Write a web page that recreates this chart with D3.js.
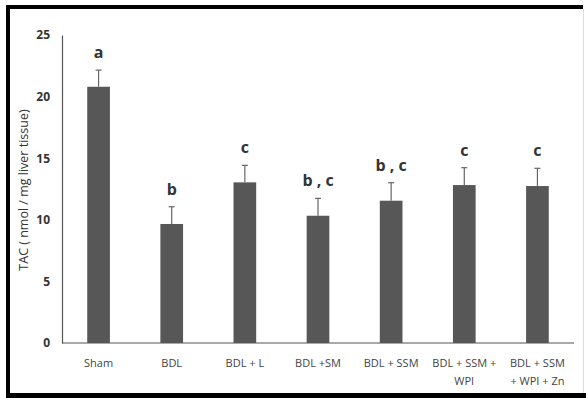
<!DOCTYPE html>
<html><head><meta charset="utf-8">
<script src="https://cdn.jsdelivr.net/npm/d3@7"></script>
<style>body{margin:0;background:#fff}svg{display:block}</style>
</head><body>
<svg id="c" width="586" height="398"></svg>
<script>
const categories = ["Sham","BDL","BDL + L","BDL +SM","BDL + SSM","BDL + SSM + WPI","BDL + SSM + WPI + Zn"];
const labelLines = [["Sham"],["BDL"],["BDL + L"],["BDL +SM"],["BDL + SSM"],["BDL + SSM +","WPI"],["BDL + SSM","+ WPI + Zn"]];
const values = [20.8, 9.66, 13.04, 10.33, 11.55, 12.82, 12.74];
const errors = [1.35, 1.4, 1.38, 1.41, 1.46, 1.41, 1.44];
const letters = ["a","b","c","b , c","b , c","c","c"];
const yTicks = [0,5,10,15,20,25];

const svg = d3.select("#c");
// frame
svg.append("line").attr("x1",8).attr("x2",8).attr("y1",5).attr("y2",398).attr("stroke","#000").attr("stroke-width",4);
svg.append("line").attr("x1",6).attr("x2",583).attr("y1",7).attr("y2",7).attr("stroke","#000").attr("stroke-width",4);
svg.append("line").attr("x1",6).attr("x2",586).attr("y1",395.5).attr("y2",395.5).attr("stroke","#000").attr("stroke-width",5);
svg.append("line").attr("x1",583.5).attr("x2",583.5).attr("y1",9).attr("y2",393).attr("stroke","#ddd").attr("stroke-width",1);

const x = d3.scaleBand().domain(categories).range([62,574]).paddingInner(0.69).paddingOuter(0.345);
const y = d3.scaleLinear().domain([0,25]).range([343,35]);

const g = svg.append("g");
// y axis
const ya = g.append("g").attr("transform","translate(62,0)").call(d3.axisLeft(y).tickValues(yTicks).tickSize(0).tickPadding(12));
ya.select(".domain").attr("stroke","#555").attr("stroke-width",1.2);
ya.selectAll("text").attr("font-family","Open Sans, sans-serif").attr("font-size",12).attr("font-weight","bold").attr("fill","#333");
// x axis
const xa = g.append("g").attr("transform","translate(0,343)").call(d3.axisBottom(x).tickSize(0).tickFormat(""));
xa.select(".domain").attr("stroke","#555").attr("stroke-width",1.2).attr("d","M62,0H574");

// bars
g.selectAll("rect.bar").data(values).join("rect").attr("class","bar")
 .attr("x",(d,i)=>x(categories[i])).attr("width",x.bandwidth())
 .attr("y",d=>y(d)).attr("height",d=>y(0)-y(d)).attr("fill","#575757");
// error bars
const cx = i => x(categories[i]) + x.bandwidth()/2;
g.selectAll("line.err").data(values).join("line").attr("class","err")
 .attr("x1",(d,i)=>cx(i)).attr("x2",(d,i)=>cx(i))
 .attr("y1",d=>y(d)).attr("y2",(d,i)=>y(d+errors[i])).attr("stroke","#666").attr("stroke-width",1.2);
g.selectAll("line.cap").data(values).join("line").attr("class","cap")
 .attr("x1",(d,i)=>cx(i)-3).attr("x2",(d,i)=>cx(i)+3)
 .attr("y1",(d,i)=>y(d+errors[i])).attr("y2",(d,i)=>y(d+errors[i])).attr("stroke","#666").attr("stroke-width",1.2);
// letters
g.selectAll("text.let").data(letters).join("text").attr("class","let")
 .attr("x",(d,i)=>cx(i)).attr("y",(d,i)=>y(values[i]+errors[i])-12)
 .attr("text-anchor","middle").attr("font-family","Open Sans, sans-serif").attr("font-size",16).attr("font-weight","bold").attr("fill","#333").text(d=>d);
// x labels
labelLines.forEach((lines,i)=>{
  lines.forEach((t,j)=>{
    g.append("text").attr("x",cx(i)).attr("y",367+j*18).attr("text-anchor","middle")
     .attr("font-family","Open Sans, sans-serif").attr("font-size",11).attr("fill","#444").text(t);
  });
});
// y title
g.append("text").attr("transform","translate(28,190) rotate(-90)").attr("text-anchor","middle")
 .attr("font-family","Open Sans, sans-serif").attr("font-size",12.5).attr("fill","#333")
 .text("TAC ( nmol / mg liver tissue)");
</script>
</body></html>
